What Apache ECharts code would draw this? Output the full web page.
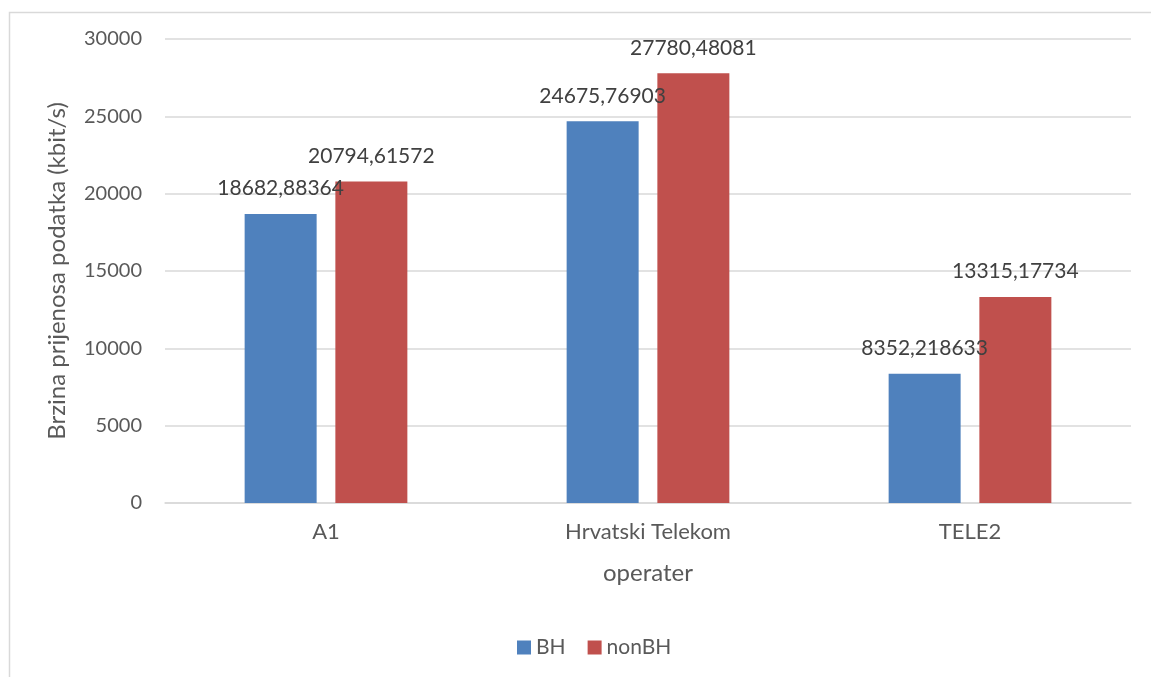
<!DOCTYPE html>
<html>
<head>
<meta charset="utf-8">
<script src="https://cdn.jsdelivr.net/npm/echarts@6/dist/echarts.min.js"></script>
<style>
html,body{margin:0;padding:0;background:#fff;}
#c{width:1151px;height:677px;}
</style>
</head>
<body>
<div id="c"></div>
<script>
const categories = ['A1', 'Hrvatski Telekom', 'TELE2'];
const bhValues = [18682.88364, 24675.76903, 8352.218633];
const nonBhValues = [20794.61572, 27780.48081, 13315.17734];
const seriesNames = ['BH', 'nonBH'];
const xAxisTitle = 'operater';
const yAxisTitle = 'Brzina prijenosa podatka (kbit/s)';

const FONT = 'Lato';
const TXT = '#595959';
function fmt(v){ return String(v).replace('.', ','); }

const chart = echarts.init(document.getElementById('c'));
const labelCfg = {
  show: true, position: 'top', distance: 15,
  color: '#404040', fontFamily: FONT, fontSize: 21,
  formatter: p => fmt(p.value)
};
chart.setOption({
  animation: false,
  backgroundColor: '#fff',
  textStyle: { fontFamily: FONT },
  graphic: [{
    type: 'rect', left: 7, top: 10, silent: true,
    shape: { width: 1160, height: 700 },
    style: { fill: 'none', stroke: '#D9D9D9', lineWidth: 1.5 }
  }],
  grid: { left: 165, right: 20, top: 39, bottom: 174 },
  legend: {
    left: 512, top: 632, itemWidth: 14, itemHeight: 14, itemGap: 22,
    icon: 'rect',
    textStyle: { color: TXT, fontFamily: FONT, fontSize: 21 },
    data: seriesNames
  },
  xAxis: {
    type: 'category', data: categories,
    axisLine: { lineStyle: { color: '#D9D9D9', width: 1.5 } },
    axisTick: { show: false },
    axisLabel: { color: TXT, fontFamily: FONT, fontSize: 22, margin: 18 },
    name: xAxisTitle, nameLocation: 'middle', nameGap: 58,
    nameTextStyle: { color: TXT, fontFamily: FONT, fontSize: 24 }
  },
  yAxis: {
    type: 'value', min: 0, max: 30000, interval: 5000,
    axisLine: { show: false }, axisTick: { show: false },
    splitLine: { lineStyle: { color: '#D9D9D9', width: 1.5 } },
    axisLabel: { color: TXT, fontFamily: FONT, fontSize: 20, margin: 23,
      formatter: v => String(v) },
    name: yAxisTitle, nameLocation: 'middle', nameGap: 96, nameRotate: 90,
    nameTextStyle: { color: TXT, fontFamily: FONT, fontSize: 24 }
  },
  series: [
    { name: seriesNames[0], type: 'bar', data: bhValues, barWidth: 72, barGap: '26%',
      itemStyle: { color: '#4F81BD' }, label: labelCfg },
    { name: seriesNames[1], type: 'bar', data: nonBhValues, barWidth: 72,
      itemStyle: { color: '#C0504D' }, label: labelCfg }
  ]
});
</script>
</body>
</html>
